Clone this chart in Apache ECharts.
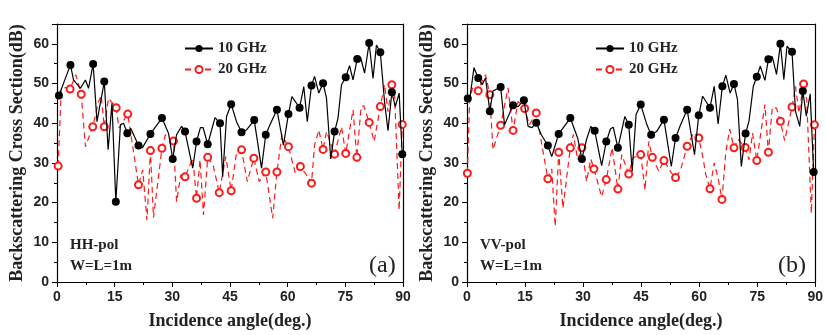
<!DOCTYPE html>
<html><head><meta charset="utf-8">
<script src="https://cdn.jsdelivr.net/npm/echarts@6/dist/echarts.min.js"></script>
<style>html,body{margin:0;padding:0;background:#fff}#c{width:826px;height:335px}</style>
</head><body><div id="c"></div>
<script>
// ---- Panel (a) HH-pol, 10 GHz ----
const aAng10 = [0.5,3.5,4.3,6.1,7.4,8.2,9.4,10.4,12.3,13.3,14.3,15.3,16.5,17.3,18.3,19.2,21.2,22.2,24.3,27.3,29.0,30.1,31.1,32.4,33.3,35.3,36.3,37.3,38.0,39.2,41.1,42.4,43.1,44.1,45.3,46.7,48.0,49.3,51.3,53.2,54.3,55.4,57.2,58.9,60.2,61.1,63.1,64.2,65.1,66.2,67.0,68.1,69.2,70.1,71.2,72.2,73.1,74.0,75.1,76.1,77.0,78.1,79.0,80.0,81.2,82.2,83.1,84.1,85.2,86.1,87.1,88.0,89.0,89.8];
const aVal10 = [47.0,54.7,50.9,48.8,50.9,48.8,54.9,40.4,50.5,33.3,45.0,20.2,39.6,40.0,37.5,38.7,34.4,33.8,37.3,41.3,37.5,31.0,37.1,39.2,37.9,28.7,35.4,38.9,38.9,34.7,41.4,40.0,26.5,41.7,44.8,40.4,37.7,38.3,40.8,28.7,37.1,39.6,43.4,34.5,42.3,46.7,43.9,49.2,40.4,49.5,51.8,47.6,50.1,46.3,31.0,37.9,41.3,49.7,51.6,54.5,50.9,56.2,56.5,52.6,60.2,51.3,59.7,57.9,45.4,38.1,47.8,44.2,47.6,32.2];
const aMark10 = [1,1,0,0,0,0,1,0,1,0,0,1,0,0,1,0,1,0,1,1,0,1,0,0,1,0,1,0,0,1,0,1,0,0,1,0,1,0,1,0,1,0,1,0,1,0,1,0,0,1,0,0,1,0,0,1,0,0,1,0,0,1,0,0,1,0,0,1,0,0,1,0,0,1];
// ---- Panel (a) HH-pol, 20 GHz ----
const aAng20 = [0.3,1.1,2.2,3.4,4.9,6.3,7.4,9.3,10.8,11.5,12.3,13.4,15.4,16.1,18.4,19.5,21.2,22.3,23.4,24.3,25.1,27.3,28.2,30.3,31.1,32.2,33.3,35.3,36.3,37.2,38.1,39.2,40.6,42.2,43.9,45.3,46.6,48.0,49.5,51.2,52.6,54.3,56.1,57.2,58.5,60.2,62.0,63.3,64.9,66.2,67.0,68.1,69.2,70.1,72.2,74.0,75.1,77.0,78.0,79.1,79.8,81.2,82.5,84.1,85.2,86.1,87.1,87.8,89.0,89.8];
const aVal20 = [29.2,48.4,49.0,48.6,52.2,47.3,34.1,39.1,45.4,47.0,39.1,46.3,43.9,38.8,42.3,35.4,24.5,28.2,15.6,33.1,16.2,33.7,37.1,35.5,20.2,27.0,26.5,31.2,21.1,30.8,16.9,31.4,29.5,22.5,31.6,23.0,32.0,33.3,25.3,31.2,25.3,27.7,16.1,27.7,37.1,34.1,27.4,29.1,27.0,24.9,34.5,38.3,33.4,37.9,32.2,39.1,32.4,43.4,31.4,44.2,44.4,40.2,35.4,44.2,49.7,42.9,49.7,47.5,18.1,39.7];
const aMark20 = [1,0,0,1,0,1,0,1,0,0,1,0,1,0,1,0,1,0,0,1,0,1,0,1,0,0,1,0,1,0,0,1,0,1,0,1,0,1,0,1,0,1,0,1,0,1,0,1,0,1,0,0,1,0,1,0,1,0,1,0,0,1,0,1,0,0,1,0,0,1];
// ---- Panel (b) VV-pol, 10 GHz ----
const bAng10 = [0.2,0.8,1.8,2.9,3.9,4.8,5.9,6.7,8.7,9.7,11.9,13.2,14.7,15.8,16.8,17.9,19.2,20.9,21.9,23.7,26.7,28.6,29.7,30.9,32.0,33.0,34.8,36.0,37.1,37.8,39.0,40.8,41.8,42.7,43.7,44.9,46.5,47.6,49.0,50.9,52.8,53.9,55.2,56.9,58.8,59.9,60.9,62.8,63.9,64.9,66.0,66.9,68.0,69.0,69.9,70.9,72.0,72.9,74.0,74.9,75.8,77.0,77.9,78.9,80.0,81.0,81.9,82.7,84.0,84.9,86.0,86.8,87.7,88.7,89.6];
const bVal10 = [46.2,46.8,54.0,51.4,49.7,51.4,43.0,48.1,49.1,39.6,44.5,44.2,45.8,39.2,38.9,40.1,37.1,34.4,31.6,37.3,41.3,36.3,31.0,35.9,39.2,38.1,29.3,35.4,38.6,39.0,33.8,41.7,39.6,27.9,42.2,44.7,39.6,37.1,37.9,40.9,29.1,36.3,39.6,43.4,32.1,42.0,46.8,43.9,49.3,39.8,49.3,52.1,47.6,49.9,46.0,29.1,37.4,40.6,49.3,51.7,54.4,50.8,56.1,56.8,52.3,60.0,51.0,59.4,58.0,43.0,39.2,48.1,41.8,47.4,27.7];
const bMark10 = [1,0,0,1,0,0,1,0,1,0,1,0,1,0,0,1,0,1,0,1,1,0,1,0,0,1,0,1,0,0,1,0,1,0,0,1,0,1,0,1,0,1,0,1,0,1,0,1,0,0,1,0,0,1,0,0,1,0,0,1,0,0,1,0,0,1,0,0,1,0,0,1,0,0,1];
// ---- Panel (b) VV-pol, 20 GHz ----
const bAng20 = [0.1,0.7,1.6,2.9,3.9,4.8,5.9,6.7,8.7,10.6,11.9,13.2,14.9,16.1,17.9,19.2,20.9,21.9,22.8,23.7,24.8,26.7,27.5,28.6,29.7,30.9,32.0,32.8,34.8,36.0,37.5,39.0,40.0,41.8,42.9,44.9,46.0,47.0,47.9,49.6,50.9,52.8,53.9,55.2,56.3,56.9,58.6,59.9,61.0,61.7,62.8,63.9,64.9,65.9,66.9,67.9,69.0,70.1,71.9,72.9,73.8,74.9,77.0,77.9,78.9,80.0,81.0,82.1,84.0,84.9,85.8,87.0,87.8,89.0,89.8];
const bVal20 = [27.4,46.6,49.3,48.2,50.5,52.2,47.2,33.3,39.5,48.9,38.2,45.5,43.7,39.6,42.6,35.4,26.0,28.5,14.0,32.7,18.6,33.8,37.2,30.8,33.8,25.3,31.0,28.5,21.5,25.8,33.8,23.4,32.1,27.2,31.3,32.1,23.2,35.4,31.4,27.9,30.6,27.5,26.3,28.2,32.1,34.2,37.6,36.3,31.3,27.1,23.5,30.0,26.2,20.8,32.8,38.5,33.8,35.9,33.9,30.8,37.5,30.6,44.7,32.7,44.0,43.8,40.5,35.6,44.1,49.3,42.6,49.9,46.0,17.3,39.6];
const bMark20 = [1,0,0,1,0,0,1,0,1,0,1,0,1,0,1,0,1,0,0,1,0,1,0,0,1,0,0,1,0,1,0,1,0,1,0,1,0,0,1,0,1,0,1,0,0,1,0,1,0,0,1,0,0,1,0,0,1,0,1,0,0,1,0,1,0,0,1,0,1,0,0,1,0,0,1];
// ---- axis ticks / labels ----
const xTickStep = 15;
const yTickStep = 10;
const seriesNames = ['10 GHz', '20 GHz'];
const panelLabels = ['(a)', '(b)'];
const polLabels = ['HH-pol', 'VV-pol'];
const sizeLabel = 'W=L=1m';
const xTitle = 'Incidence angle(deg.)';
const yTitle = 'Backscattering Cross Section(dB)';

const BLACK = '#000000', RED = '#ff1a1a';
const serif = 'Liberation Serif', sans = 'Liberation Sans';

function pts(ang, val, mark) {
  return ang.map((a, i) => ({ value: [a, val[i]], symbol: mark[i] ? undefined : 'none' }));
}

const chart = echarts.init(document.getElementById('c'), null, { renderer: 'canvas' });
const grids = [
  { left: 57, right: 423, top: 24, bottom: 53 },
  { left: 467, right: 9, top: 24, bottom: 53 }
];
const xAxes = [], yAxes = [];
[0, 1].forEach(g => {
  xAxes.push({
    type: 'value', gridIndex: g, min: 0, max: 90, interval: xTickStep,
    name: xTitle, nameLocation: 'middle', nameGap: 30,
    nameTextStyle: { fontFamily: serif, fontWeight: 'bold', fontSize: 18, color: '#222' },
    axisLine: { onZero: false, lineStyle: { color: '#000', width: 1.2 } },
    axisTick: { inside: false, length: 5, lineStyle: { color: '#000' } },
    minorTick: { show: true, splitNumber: 2, length: 3, lineStyle: { color: '#000' } },
    axisLabel: { fontFamily: sans, fontWeight: 'bold', fontSize: 14, color: '#222', margin: 8 },
    splitLine: { show: false }
  });
  xAxes.push({
    type: 'value', gridIndex: g, min: 0, max: 90, position: 'top',
    axisLine: { onZero: false, lineStyle: { color: '#000', width: 1.2 } },
    axisTick: { show: false }, axisLabel: { show: false }, splitLine: { show: false }
  });
  yAxes.push({
    type: 'value', gridIndex: g, min: 0, max: 65, interval: yTickStep,
    name: yTitle, nameLocation: 'middle', nameGap: 31, nameRotate: 90,
    nameTextStyle: { fontFamily: serif, fontWeight: 'bold', fontSize: 18, color: '#222' },
    axisLine: { show: true, onZero: false, lineStyle: { color: '#000', width: 1.2 } },
    axisTick: { show: true, inside: false, length: 5, lineStyle: { color: '#000' } },
    minorTick: { show: true, splitNumber: 2, length: 3, lineStyle: { color: '#000' } },
    axisLabel: { fontFamily: sans, fontWeight: 'bold', fontSize: 14, color: '#222', margin: 8, showMaxLabel: false },
    splitLine: { show: false }
  });
  yAxes.push({
    type: 'value', gridIndex: g, min: 0, max: 65, position: 'right',
    axisLine: { show: true, onZero: false, lineStyle: { color: '#000', width: 1.2 } },
    axisTick: { show: false }, axisLabel: { show: false }, splitLine: { show: false }
  });
});

function mkSeries(name, g, data, isRed) {
  return {
    name, type: 'line', xAxisIndex: g * 2, yAxisIndex: g * 2,
    data, showSymbol: true, showAllSymbol: true,
    symbol: isRed ? 'emptyCircle' : 'circle', symbolSize: isRed ? 7 : 8,
    lineStyle: { color: isRed ? RED : BLACK, width: 1.2, type: isRed ? [6, 4] : 'solid' },
    itemStyle: { color: isRed ? RED : BLACK, borderColor: isRed ? RED : BLACK, borderWidth: isRed ? 1 : 0 },
    emphasis: { disabled: true }, animation: false, z: isRed ? 2 : 3
  };
}

const legendCommon = {
  orient: 'vertical', top: 36, itemGap: 6, itemWidth: 28, itemHeight: 9,
  textStyle: { fontFamily: serif, fontWeight: 'bold', fontSize: 15, color: '#222' },
  data: seriesNames, selectedMode: false
};

const annot = [];
[0, 1].forEach(g => {
  const x0 = g === 0 ? 70 : 480;
  annot.push({ type: 'text', left: x0, top: 238, style: { text: polLabels[g], font: 'bold 15px "Liberation Serif"', fill: '#222' } });
  annot.push({ type: 'text', left: x0, top: 259, style: { text: sizeLabel, font: 'bold 15px "Liberation Serif"', fill: '#222' } });
  annot.push({ type: 'text', left: g === 0 ? 369 : 778, top: 254, style: { text: panelLabels[g], font: '24px "Liberation Serif"', fill: '#222' } });
});

chart.setOption({
  animation: false,
  grid: grids,
  xAxis: xAxes,
  yAxis: yAxes,
  legend: [
    Object.assign({ left: 179 }, legendCommon),
    Object.assign({ left: 590 }, legendCommon)
  ],
  graphic: annot,
  series: [
    mkSeries(seriesNames[1], 0, pts(aAng20, aVal20, aMark20), true),
    mkSeries(seriesNames[0], 0, pts(aAng10, aVal10, aMark10), false),
    mkSeries(seriesNames[1], 1, pts(bAng20, bVal20, bMark20), true),
    mkSeries(seriesNames[0], 1, pts(bAng10, bVal10, bMark10), false)
  ]
});
</script></body></html>
